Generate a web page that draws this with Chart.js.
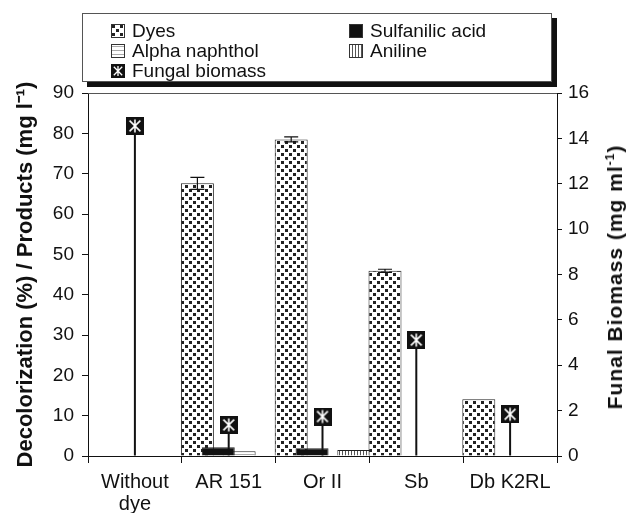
<!DOCTYPE html>
<html>
<head>
<meta charset="utf-8">
<script src="https://cdn.jsdelivr.net/npm/chart.js@4.4.0/dist/chart.umd.min.js"></script>
<style>
body { margin: 0; background: #fff; font-family: "Liberation Sans", Arial, sans-serif; }
#wrap { position: relative; width: 636px; height: 513px; }
#legend { position: absolute; left: 82px; top: 13px; width: 468px; height: 67px; border: 1px solid #555; background: #fff; box-shadow: 5px 5px 0 #111; font-size: 19px; color: #111; }
.item { position: absolute; display: flex; align-items: center; height: 20px; line-height: 20px; white-space: nowrap; }
.item canvas { margin-right: 7px; }
#rtitle { position: absolute; left: 615px; top: 277px; transform: translate(-50%, -50%) rotate(-90deg); font-weight: bold; font-size: 21px; letter-spacing: 1px; white-space: nowrap; color: #111; }
</style>
</head>
<body>
<div id="wrap">
  <canvas id="chart" width="636" height="513"></canvas>
  <div id="legend"></div>
  <div id="rtitle">Funal Biomass (mg ml<sup style="font-size:12px">-1</sup>)</div>
</div>
<script>
// data
var labels = [['Without', 'dye'], 'AR 151', 'Or II', 'Sb', 'Db K2RL'];
var dyes = [null, 67.6, 78.5, 45.9, 14.1];
var dyesErr = [0, 1.5, 0.6, 0.4, 0];
var sulfanilic = [null, 2.2, 1.9, null, null];
var alphaNaphthol = [null, 1.2, null, null, null];
var aniline = [null, null, 1.5, null, null];
var biomass = [14.55, 1.37, 1.74, 5.11, 1.84];

var FONT = '"Liberation Sans", Arial, sans-serif';

// fill patterns
function makeTile(w, h, draw) {
    var c = document.createElement('canvas');
    c.width = w; c.height = h;
    var g = c.getContext('2d');
    g.fillStyle = '#fff';
    g.fillRect(0, 0, w, h);
    draw(g);
    return c;
}
var dyeTile = makeTile(8, 8, function (g) {
    g.fillStyle = '#222';
    g.fillRect(1, 1, 3, 3);
    g.fillRect(5, 5, 3, 3);
});
var alphaTile = makeTile(1, 4, function (g) {
    g.fillStyle = '#aaa';
    g.fillRect(0, 2, 1, 1);
});
var anilineTile = makeTile(3, 1, function (g) {
    g.fillStyle = '#555';
    g.fillRect(0, 0, 1, 1);
});
var ctx = document.getElementById('chart').getContext('2d');
var dyePattern = ctx.createPattern(dyeTile, 'repeat');
var alphaPattern = ctx.createPattern(alphaTile, 'repeat');
var anilinePattern = ctx.createPattern(anilineTile, 'repeat');

// black square with white asterisk
function makeMarker(n) {
    var c = document.createElement('canvas');
    c.width = n; c.height = n;
    var g = c.getContext('2d');
    g.fillStyle = '#111';
    g.fillRect(0, 0, n, n);
    g.strokeStyle = '#fff';
    g.lineWidth = n > 15 ? 1.6 : 1.3;
    var a = n * 0.2, b = n * 0.8;
    g.beginPath();
    g.moveTo(a, a); g.lineTo(b, b);
    g.moveTo(b, a); g.lineTo(a, b);
    g.moveTo(n / 2, n * 0.14); g.lineTo(n / 2, n * 0.86);
    g.stroke();
    return c;
}
var marker = makeMarker(18);

// legend
var legendItems = [
    { text: 'Dyes', fill: dyeTile, x: 28, y: 7 },
    { text: 'Sulfanilic acid', fill: '#111', x: 266, y: 7 },
    { text: 'Alpha naphthol', fill: alphaTile, x: 28, y: 27 },
    { text: 'Aniline', fill: anilineTile, x: 266, y: 27 },
    { text: 'Fungal biomass', marker: true, x: 28, y: 47 }
];
var legend = document.getElementById('legend');
legendItems.forEach(function (it) {
    var d = document.createElement('div');
    d.className = 'item';
    d.style.left = it.x + 'px';
    d.style.top = it.y + 'px';
    var sw;
    if (it.marker) {
        sw = makeMarker(14);
    } else {
        sw = document.createElement('canvas');
        sw.width = 14; sw.height = 14;
        var g = sw.getContext('2d');
        g.fillStyle = typeof it.fill === 'string' ? it.fill : g.createPattern(it.fill, 'repeat');
        g.fillRect(0, 0, 14, 14);
        g.strokeStyle = '#333';
        g.strokeRect(0.5, 0.5, 13, 13);
    }
    d.appendChild(sw);
    d.appendChild(document.createTextNode(it.text));
    legend.appendChild(d);
});

// sulfanilic bars go over the dye bars, then error bars
var overlay = {
    id: 'overlay',
    beforeDatasetDraw: function (chart, args) {
        if (args.index === 1) return false;
    },
    afterDatasetsDraw: function (chart) {
        chart.getDatasetMeta(1).controller.draw();
        var c = chart.ctx, ys = chart.scales.y;
        c.save();
        c.strokeStyle = '#111';
        c.lineWidth = 1.2;
        chart.getDatasetMeta(0).data.forEach(function (bar, i) {
            if (!dyesErr[i]) return;
            var t = ys.getPixelForValue(dyes[i] + dyesErr[i]);
            var b = ys.getPixelForValue(dyes[i] - dyesErr[i]);
            c.beginPath();
            c.moveTo(bar.x, t); c.lineTo(bar.x, b);
            c.moveTo(bar.x - 7, t); c.lineTo(bar.x + 7, t);
            c.moveTo(bar.x - 7, b); c.lineTo(bar.x + 7, b);
            c.stroke();
        });
        var a = chart.chartArea;
        c.strokeStyle = '#555';
        c.lineWidth = 1;
        c.beginPath();
        c.moveTo(a.left, a.top + 0.5); c.lineTo(a.right, a.top + 0.5);
        c.stroke();
        c.restore();
    }
};

var barOpts = { categoryPercentage: 0.89, barPercentage: 1.58, borderWidth: 1, borderColor: '#222', yAxisID: 'y' };

var chart = new Chart(ctx, {
    type: 'bar',
    data: {
        labels: labels,
        datasets: [
            Object.assign({ label: 'Dyes', data: dyes, backgroundColor: dyePattern }, barOpts),
            Object.assign({ label: 'Sulfanilic acid', data: sulfanilic, backgroundColor: '#111' }, barOpts),
            Object.assign({ label: 'Alpha naphthol', data: alphaNaphthol, backgroundColor: alphaPattern }, barOpts),
            Object.assign({ label: 'Aniline', data: aniline, backgroundColor: anilinePattern }, barOpts),
            {
                type: 'line', label: 'Fungal biomass', data: biomass, yAxisID: 'y1',
                showLine: false, pointStyle: marker, order: -1
            },
            {
                label: 'stem', data: biomass, yAxisID: 'y1', grouped: false,
                backgroundColor: '#111', borderWidth: 0, maxBarThickness: 2
            }
        ]
    },
    options: {
        responsive: false,
        animation: false,
        layout: { padding: { top: 93, left: 0, right: 0, bottom: 0 } },
        plugins: { legend: { display: false }, tooltip: { enabled: false } },
        scales: {
            x: {
                grid: { offset: true, drawOnChartArea: false, tickLength: 7, color: '#111' },
                border: { color: '#111' },
                ticks: { font: { family: FONT, size: 20, lineHeight: 1.1 }, color: '#111', padding: 8, maxRotation: 0, autoSkip: false },
                afterFit: function (s) { s.height = 57; }
            },
            y: {
                position: 'left', min: 0, max: 90,
                grid: { drawOnChartArea: false, tickLength: 6, color: '#111' },
                border: { color: '#111' },
                ticks: { stepSize: 10, font: { family: FONT, size: 19 }, color: '#111', padding: 8 },
                title: {
                    display: true, text: 'Decolorization (%) / Products (mg l\u207B\u00B9)',
                    font: { family: FONT, size: 22, weight: 'bold' }, color: '#111',
                    padding: { top: 13, bottom: 0 }
                },
                afterFit: function (s) { s.width = 88; }
            },
            y1: {
                position: 'right', min: 0, max: 16,
                grid: { drawOnChartArea: false, tickLength: 5, color: '#111' },
                border: { color: '#111' },
                ticks: { stepSize: 2, font: { family: FONT, size: 19 }, color: '#111', padding: 6 },
                afterFit: function (s) { s.width = 79; }
            }
        }
    },
    plugins: [overlay]
});
</script>
</body>
</html>
